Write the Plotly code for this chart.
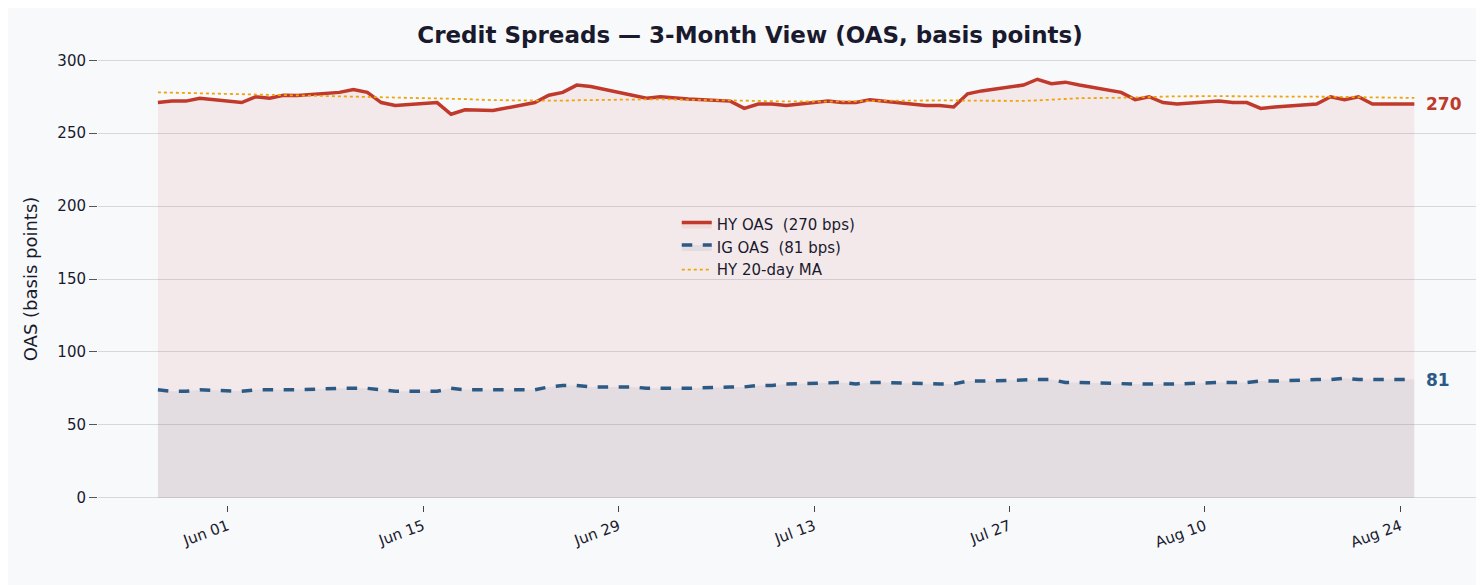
import pandas as pd
import plotly.graph_objects as go

dates = pd.bdate_range("2025-05-27", "2025-08-25")
hy = [271,272,272,274,
      271,275,274,276,275.8,
      278,280,278,271,269,
      271,263,266,266,265.5,
      271,276,278,283,282,
      276,274,275,274,273.5,
      272,267,270,270,269,
      272,271,271,273,272,
      269,269,268,277,279,
      283,287,284,285,283,
      278,273,275,271,270,
      272,271,271,267,268,
      270,275,273,275,270,
      270]
ig = [74,73,73,74,
      73,74,74,74,74,
      75,75,75,74,73,
      73,75,74,74,74,
      74,76,77,77,76,
      76,75,75,75,75,
      76,76,77,77,78,
      79,79,78,79,79,
      78,78,78,80,80,
      81,81,81,79,79,
      78,78,78,78,78,
      79,79,79,80,80,
      81,81,82,81,81,
      81]
ma = [278,277.8,277.6,277.3,
      277,276.8,276.5,276.2,276,
      275.7,275.4,275.1,274.8,274.5,
      274.2,273.8,273.4,273,272.7,
      272.4,272.2,272.3,272.6,272.8,
      273,273.2,273.3,273.1,272.9,
      272.7,272.4,272.2,272,271.8,
      271.7,271.7,271.8,272,272.3,
      272.6,272.6,272.5,272.3,272.2,
      272.2,272.5,273,273.5,274,
      274.3,274.6,275,275.2,275.3,
      275.4,275.4,275.3,275.2,275.1,
      275,275,274.9,274.7,274.5,
      274.2]

fig = go.Figure()
fig.add_trace(go.Scatter(x=dates, y=hy, mode="lines", name="HY OAS  (270 bps)",
    line=dict(color="#c0392b", width=3.5), fill="tozeroy", fillcolor="rgba(192,57,43,0.08)"))
fig.add_trace(go.Scatter(x=dates, y=ig, mode="lines", name="IG OAS  (81 bps)",
    line=dict(color="#2c5a85", width=3.5, dash="dash"), fill="tozeroy", fillcolor="rgba(44,90,133,0.08)"))
fig.add_trace(go.Scatter(x=dates, y=ma, mode="lines", name="HY 20-day MA",
    line=dict(color="#f0a30a", width=1.8, dash="dot")))
fig.add_annotation(x=dates[-1], y=hy[-1], text="<b>270</b>", showarrow=False, xanchor="left", xshift=10,
    font=dict(color="#c0392b", size=17))
fig.add_annotation(x=dates[-1], y=ig[-1], text="<b>81</b>", showarrow=False, xanchor="left", xshift=10,
    font=dict(color="#2c5a85", size=17))
fig.update_layout(
    width=1484, height=585, paper_bgcolor="#f8f9fb", plot_bgcolor="#f8f9fb",
    font=dict(family="DejaVu Sans", color="#1a1a2e", size=15),
    title=dict(text="<b>Credit Spreads — 3-Month View (OAS, basis points)</b>", x=0.5, y=0.954,
               yanchor="middle", font=dict(size=23)),
    margin=dict(l=90, r=16, t=45, b=88),
    legend=dict(x=0.42, y=0.57, xanchor="left", yanchor="middle", bgcolor="rgba(0,0,0,0)", font=dict(size=15)),
    showlegend=True,
)
fig.update_xaxes(range=["2025-05-22 17:00", "2025-08-29 10:00"], tickvals=pd.date_range("2025-06-01", periods=7, freq="14D"),
    tickformat="%b %d", tickangle=-20, showgrid=False, ticks="outside", ticklen=6, showline=False)
fig.update_yaxes(range=[-5, 305], tickvals=[0,50,100,150,200,250,300], title="OAS (basis points)",
    gridcolor="#d5d8de", zeroline=False, ticks="outside", ticklen=8, tickcolor="#555")
fig.write_html("out.html")
